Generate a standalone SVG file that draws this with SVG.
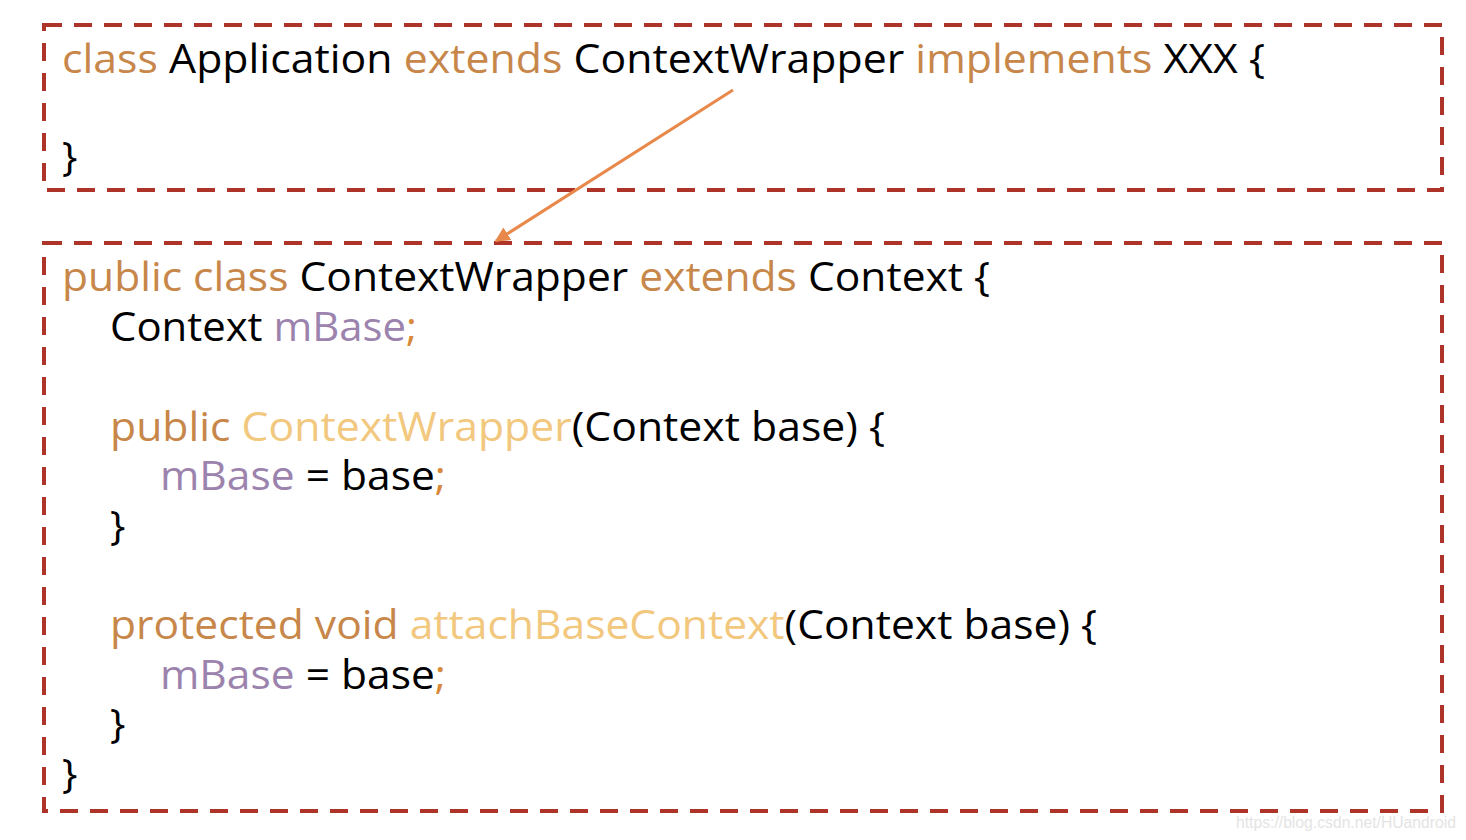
<svg xmlns="http://www.w3.org/2000/svg" width="1466" height="840" viewBox="0 0 1466 840">
<style>
text{font-family:"Open Sans","Noto Sans","Liberation Sans",sans-serif;font-size:41px;fill:#000}
.kw{fill:#C8874A}
.fn{fill:#F2C77E}
.pu{fill:#9C83AE}
.sc{fill:#D7893C}
.box{fill:none;stroke:#AE3328;stroke-width:4;stroke-dasharray:18 12}
.wm{font-family:"Liberation Sans",Arial,sans-serif;font-size:16px;fill:#e4e4e4}
</style>
<defs>
<marker id="ah" viewBox="0 0 10 10" refX="9" refY="5" markerWidth="5" markerHeight="5" orient="auto">
<path d="M0,0 L10,5 L0,10 z" fill="#E8884A"/>
</marker>
</defs>
<rect width="1466" height="840" fill="#fff"/>
<g id="application">
<rect class="box" x="44" y="25" width="1398" height="165"/>
<text x="62" y="73" textLength="1203" lengthAdjust="spacingAndGlyphs"><tspan class="kw">class</tspan> Application <tspan class="kw">extends</tspan> ContextWrapper <tspan class="kw">implements</tspan> XXX {</text>
<text x="62" y="171">}</text>
</g>
<g id="contextwrapper">
<rect class="box" x="44" y="243" width="1398" height="568"/>
<text x="62" y="291" textLength="928" lengthAdjust="spacingAndGlyphs"><tspan class="kw">public class</tspan> ContextWrapper <tspan class="kw">extends</tspan> Context {</text>
<text x="110" y="341" textLength="307" lengthAdjust="spacingAndGlyphs">Context <tspan class="pu">mBase</tspan><tspan class="sc">;</tspan></text>
<text x="110" y="441" textLength="775" lengthAdjust="spacingAndGlyphs"><tspan class="kw">public</tspan> <tspan class="fn">ContextWrapper</tspan>(Context base) {</text>
<text x="160" y="490" textLength="286" lengthAdjust="spacingAndGlyphs"><tspan class="pu">mBase</tspan> = base<tspan class="sc">;</tspan></text>
<text x="110" y="540">}</text>
<text x="110" y="639" textLength="987" lengthAdjust="spacingAndGlyphs"><tspan class="kw">protected void</tspan> <tspan class="fn">attachBaseContext</tspan>(Context base) {</text>
<text x="160" y="689" textLength="286" lengthAdjust="spacingAndGlyphs"><tspan class="pu">mBase</tspan> = base<tspan class="sc">;</tspan></text>
<text x="110" y="738">}</text>
<text x="62" y="788">}</text>
</g>
<g id="connectors">
<line x1="733" y1="90" x2="496" y2="241" stroke="#E8884A" stroke-width="3" marker-end="url(#ah)"/>
</g>
<text class="wm" x="1236" y="828" textLength="220" lengthAdjust="spacingAndGlyphs">https://blog.csdn.net/HUandroid</text>
</svg>
